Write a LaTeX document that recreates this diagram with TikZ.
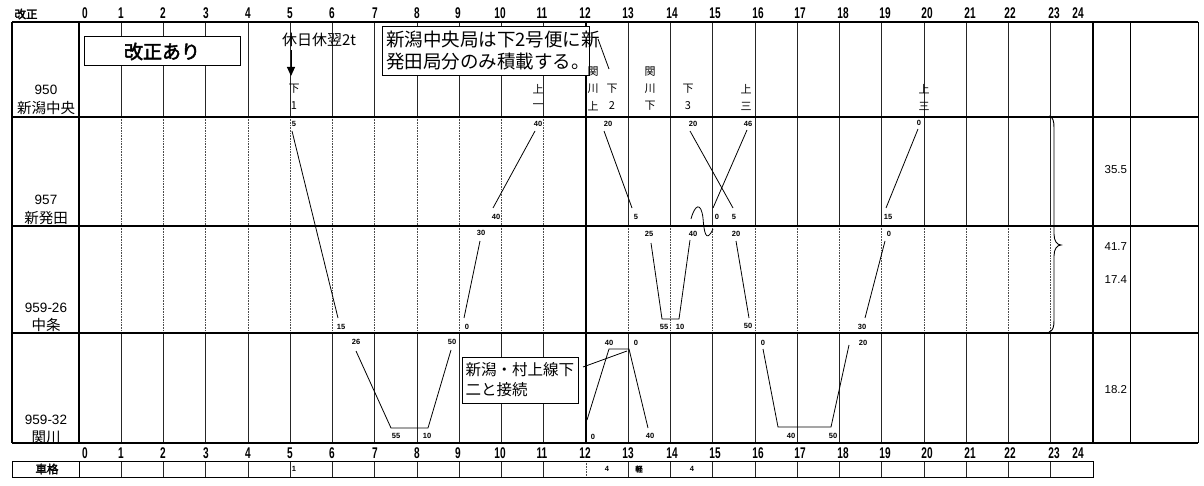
\documentclass[tikz,border=0pt]{standalone}
\usepackage{fontspec}
\setmainfont{Liberation Sans}
\newfontfamily\jp[AutoFakeBold=2.5]{Noto Sans CJK JP}
\usetikzlibrary{arrows.meta}
\begin{document}
\begin{tikzpicture}[x=1pt,y=-1pt,
  every node/.style={inner sep=0pt, outer sep=0pt},
  gsolid/.style={draw=black!85, line width=0.6pt},
  gdot/.style={draw=black!70, line width=0.6pt, densely dotted},
  frm/.style={line width=1.6pt},
  frmthin/.style={line width=1pt},
  train/.style={line width=0.8pt},
  tl/.style={font=\bfseries\fontsize{7.5}{8}\selectfont},
  hr/.style={font=\bfseries\fontsize{15.5}{16}\selectfont},
  vl/.style={font=\jp\fontsize{11}{11}\selectfont},
  stn/.style={font=\fontsize{13.5}{14}\selectfont},
  stj/.style={font=\jp\fontsize{14.5}{15}\selectfont},
  num/.style={font=\fontsize{11.5}{12}\selectfont, anchor=east},
  cbox/.style={draw, line width=0.9pt, fill=white, align=left, inner sep=3pt},
]
\useasboundingbox (0,0) rectangle (1204,486);
\fill[white] (0,0) rectangle (1204,486);

% ---------- grid lines ----------
\foreach \h in {1,...,23}{
  \pgfmathsetmacro\xx{79+42.24*\h}
  \ifnum\h=12\relax\else
    \draw[gsolid] (\xx,22) -- (\xx,117);
    \ifnum\h<12 \draw[gdot] (\xx,117) -- (\xx,226); \else \draw[gsolid] (\xx,117) -- (\xx,226); \fi
    \draw[gdot] (\xx,226) -- (\xx,333);
    \draw[gsolid] (\xx,333) -- (\xx,443);
    \draw[gsolid] (\xx,461) -- (\xx,477);
  \fi
}
\draw[frm] (585.9,22) -- (585.9,443);
\draw[gdot] (585.9,461) -- (585.9,477);

% ---------- frame ----------
\draw[frm] (12,22) -- (1198,22);
\foreach \y in {117,226,333,443} \draw[frm] (12,\y) -- (1198,\y);
\draw[frm] (12,22) -- (12,443);
\draw[frm] (79,22) -- (79,443);
\draw[frm] (1093,22) -- (1093,443);
\draw[frmthin] (1130,22) -- (1130,443);
\draw[frmthin] (1198,22) -- (1198,443);
\draw[frmthin] (12,461) rectangle (1093,477);
\draw[frmthin] (79,461) -- (79,477);

% ---------- hour labels ----------
\node[font=\jp\bfseries\fontsize{11.5}{12}\selectfont] (kaiseihdr) at (26,14) {改正};
\foreach \h/\x in {0/85,1/121,2/163,3/206,4/248,5/290,6/332,7/375,8/417,9/458,10/500,11/542,12/585,13/628,14/672,15/715,16/758,17/800,18/843,19/885,20/927,21/970,22/1010,23/1054,24/1078}{
  \node[hr] (ht\h) at (\x,13) {\scalebox{0.65}[1]{\h}};
  \node[hr] (hb\h) at (\x,453) {\scalebox{0.65}[1]{\h}};
}

% ---------- stations ----------
\node[stn] (s1n) at (46,90) {950};
\node[stj] (s1j) at (46,108) {新潟中央};
\node[stn] (s2n) at (46,200) {957};
\node[stj] (s2j) at (46,218) {新発田};
\node[stn] (s3n) at (46,308) {959-26};
\node[stj] (s3j) at (46,325) {中条};
\node[stn] (s4n) at (46,420) {959-32};
\node[stj] (s4j) at (46,437) {関川};
\node[font=\jp\bfseries\fontsize{11.5}{12}\selectfont] (shakaku) at (47,469) {車格};

% ---------- header texts ----------
\node[draw, line width=1pt, fill=white, minimum width=156pt, minimum height=29pt,
      font=\jp\bfseries\fontsize{19}{19}\selectfont] (kaisei) at (162,51.5) {改正あり};
\node[anchor=west, font=\jp\fontsize{15}{15}\selectfont] (kyujitsu) at (282,40) {休日休翌2t};
\node[cbox, anchor=north west, minimum width=207pt, minimum height=49pt, text width=199pt,
      font=\jp\fontsize{18.5}{22}\selectfont] (note1) at (382,26) {新潟中央局は下2号便に新\\発田局分のみ積載する。};
\coordinate (c1s) at (598,39); \coordinate (c1e) at (609,69);
\draw[line width=0.8pt] (c1s) -- (c1e);
\coordinate (arS) at (291,50); \coordinate (arE) at (291,76);
\draw[line width=1pt, -{Triangle[length=9pt,width=8pt]}] (arS) -- (arE);

\node[vl] (v1a) at (294,89) {下}; \node[vl] (v1b) at (294,106) {1};
\node[vl] (v2a) at (538,89) {上}; \node[vl] (v2b) at (538,106) {一};
\node[vl] (v3a) at (593,72) {関}; \node[vl] (v3b) at (593,89) {川}; \node[vl] (v3c) at (593,106) {上};
\node[vl] (v4a) at (612,89) {下}; \node[vl] (v4b) at (612,106) {2};
\node[vl] (v5a) at (650,72) {関}; \node[vl] (v5b) at (650,89) {川}; \node[vl] (v5c) at (650,106) {下};
\node[vl] (v6a) at (688,89) {下}; \node[vl] (v6b) at (688,106) {3};
\node[vl] (v7a) at (746,89) {上}; \node[vl] (v7b) at (746,106) {三};
\node[vl] (v8a) at (924,89) {上}; \node[vl] (v8b) at (924,106) {三};

% ---------- train lines ----------
\coordinate (a1) at (292,131); \coordinate (a2) at (338,318);
\draw[train] (a1) -- (a2);
\node[tl] (la1) at (294,124) {5}; \node[tl] (la2) at (341,327) {15};

\coordinate (b1) at (356,351); \coordinate (b2) at (391,428); \coordinate (b3) at (428,428); \coordinate (b4) at (451,350);
\draw[train] (b1) -- (b2) -- (b3) -- (b4);
\node[tl] (lb1) at (356,342) {26}; \node[tl] (lb2) at (396,436) {55};
\node[tl] (lb3) at (427,436) {10}; \node[tl] (lb4) at (452,342) {50};

\coordinate (c1) at (464,318); \coordinate (c2) at (480,241);
\draw[train] (c1) -- (c2);
\node[tl] (lc1) at (467,327) {0}; \node[tl] (lc2) at (481,233) {30};

\coordinate (d1) at (493,208); \coordinate (d2) at (535,131);
\draw[train] (d1) -- (d2);
\node[tl] (ld1) at (496,217) {40}; \node[tl] (ld2) at (538,124) {40};

\coordinate (e1) at (604,131); \coordinate (e2) at (632,208);
\draw[train] (e1) -- (e2);
\node[tl] (le1) at (608,124) {20}; \node[tl] (le2) at (636,217) {5};

\coordinate (f1) at (690,131); \coordinate (f2) at (733,208);
\draw[train] (f1) -- (f2);
\node[tl] (lf1) at (693,124) {20}; \node[tl] (lf2) at (734,217) {5};

\coordinate (g1) at (747,130); \coordinate (g2) at (713,208);
\draw[train] (g1) -- (g2);
\node[tl] (lg1) at (748,124) {46}; \node[tl] (lg2) at (717,217) {0};

\coordinate (w1) at (691,219); \coordinate (w2) at (703,218); \coordinate (w3) at (713,229);
\draw[train] (w1) .. controls (695,204) and (701,202) .. (w2) .. controls (704,232) and (706,244) .. (w3);

\coordinate (h1) at (651,243); \coordinate (h2) at (662,319); \coordinate (h3) at (679,319); \coordinate (h4) at (690,240);
\draw[train] (h1) -- (h2) -- (h3) -- (h4);
\node[tl] (lh1) at (649,234) {25}; \node[tl] (lh2) at (664,327) {55};
\node[tl] (lh3) at (680,327) {10}; \node[tl] (lh4) at (693,234) {40};

\coordinate (i1) at (736,241); \coordinate (i2) at (749,318);
\draw[train] (i1) -- (i2);
\node[tl] (li1) at (736,234) {20}; \node[tl] (li2) at (748,326) {50};

\coordinate (j1) at (587,420); \coordinate (j2) at (609,349); \coordinate (j3) at (629,349); \coordinate (j4) at (648,428);
\draw[train] (j1) -- (j2) -- (j3) -- (j4);
\node[tl] (lj1) at (593,437) {0}; \node[tl] (lj2) at (609,343) {40};
\node[tl] (lj3) at (636,343) {0}; \node[tl] (lj4) at (650,436) {40};

\coordinate (k1) at (763,349); \coordinate (k2) at (778,427); \coordinate (k3) at (831,427); \coordinate (k4) at (849,345);
\draw[train] (k1) -- (k2) -- (k3) -- (k4);
\node[tl] (lk1) at (763,343) {0}; \node[tl] (lk2) at (791,436) {40};
\node[tl] (lk3) at (833,436) {50}; \node[tl] (lk4) at (863,343) {20};

\coordinate (m1) at (865,318); \coordinate (m2) at (885,241);
\draw[train] (m1) -- (m2);
\node[tl] (lm1) at (862,327) {30}; \node[tl] (lm2) at (889,234) {0};

\coordinate (n1) at (886,208); \coordinate (n2) at (918,129);
\draw[train] (n1) -- (n2);
\node[tl] (ln1) at (888,217) {15}; \node[tl] (ln2) at (919,123) {0};

% ---------- callout 2 ----------
\node[cbox, minimum width=115pt, minimum height=46pt, text width=110pt,
      font=\jp\fontsize{15.5}{20}\selectfont] (note2) at (520.5,380) {新潟・村上線下\\二と接続};
\coordinate (c2s) at (583,367); \coordinate (c2e) at (627,351);
\draw[line width=0.8pt] (c2s) -- (c2e);

% ---------- brace ----------
\coordinate (br1) at (1049,116); \coordinate (brt) at (1061,245); \coordinate (br2) at (1049,332);
\draw[line width=0.9pt] (br1) .. controls (1053,117) and (1054,121) .. (1054,128) -- (1054,234)
  .. controls (1054,241) and (1057,245) .. (brt) .. controls (1057,245) and (1054,249) .. (1054,256)
  -- (1054,320) .. controls (1054,327) and (1053,331) .. (br2);

% ---------- distances ----------
\node[num] (d355) at (1127,170) {35.5};
\node[num] (d417) at (1127,247) {41.7};
\node[num] (d174) at (1127,280) {17.4};
\node[num] (d182) at (1127,390) {18.2};

% ---------- vehicle class row ----------
\node[tl] (vc1) at (294,469) {1};
\node[tl] (vc2) at (607,469) {4};
\node[font=\jp\bfseries\fontsize{7.5}{8}\selectfont] (vc3) at (639,469) {軽};
\node[tl] (vc4) at (692,469) {4};
\end{tikzpicture}
\end{document}
